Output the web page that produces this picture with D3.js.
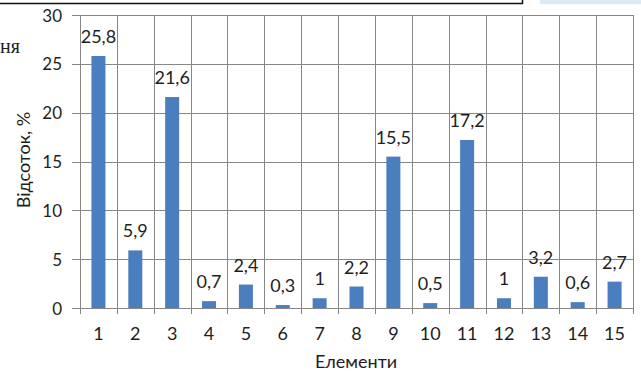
<!DOCTYPE html>
<html>
<head>
<meta charset="utf-8">
<script src="https://cdn.jsdelivr.net/npm/d3@7"></script>
<style>
  html, body { margin: 0; padding: 0; background: #fff; }
  svg { display: block; }
  text { font-family: Lato, "Open Sans", sans-serif; fill: #1e1e1e; }
</style>
</head>
<body>
<svg id="chart" width="641" height="376"></svg>
<script>
// Element numbers and their share, %
const categories = ["1","2","3","4","5","6","7","8","9","10","11","12","13","14","15"];
const values = [25.8, 5.9, 21.6, 0.7, 2.4, 0.3, 1, 2.2, 15.5, 0.5, 17.2, 1, 3.2, 0.6, 2.7];
const yTicks = [0, 5, 10, 15, 20, 25, 30];

const svg = d3.select("#chart");
const plotLeft = 80, plotRight = 633, plotTop = 15, plotBottom = 308;

const x = d3.scaleBand().domain(categories).range([plotLeft, plotRight]).paddingInner(0.62).paddingOuter(0.31);
const xb = d3.scaleBand().domain(categories).range([plotLeft, plotRight]);
const y = d3.scaleLinear().domain([0, 30]).range([plotBottom, plotTop]);

// fragments of the surrounding page
svg.append("line").attr("x1", 0).attr("x2", 523).attr("y1", 3.5).attr("y2", 3.5)
  .attr("stroke", "#111").attr("stroke-width", 1.5);
svg.append("line").attr("x1", 522.5).attr("x2", 522.5).attr("y1", 0).attr("y2", 4)
  .attr("stroke", "#111").attr("stroke-width", 1.5);
svg.append("rect").attr("x", 540).attr("y", 0).attr("width", 101).attr("height", 4)
  .attr("fill", "#dce9f6");
svg.append("text").attr("x", 0).attr("y", 53).text("ня")
  .style("font-family", "'Liberation Serif', serif").style("font-size", "20px");

const grid = svg.append("g").attr("stroke", "#878787").attr("stroke-width", 1).attr("shape-rendering", "crispEdges");

// horizontal gridlines with left tick marks
grid.selectAll("line.h").data(yTicks).join("line").attr("class", "h")
  .attr("x1", plotLeft - 8).attr("x2", plotRight)
  .attr("y1", d => Math.round(y(d)) + 0.5).attr("y2", d => Math.round(y(d)) + 0.5);

// vertical gridlines at category boundaries, extending below the axis as ticks
const bounds = categories.map(c => xb(c)).concat([plotRight]);
grid.selectAll("line.v").data(bounds).join("line").attr("class", "v")
  .attr("x1", d => Math.round(d) + 0.5).attr("x2", d => Math.round(d) + 0.5)
  .attr("y1", plotTop).attr("y2", plotBottom + 6);

// bars
svg.append("g").selectAll("rect").data(values).join("rect")
  .attr("x", (d, i) => x(categories[i]))
  .attr("width", x.bandwidth())
  .attr("y", d => y(d))
  .attr("height", d => y(0) - y(d))
  .attr("fill", "#4a7ebf");

// value labels
const fmt = d => String(d).replace(".", ",");
svg.append("g").selectAll("text").data(values).join("text")
  .attr("x", (d, i) => xb(categories[i]) + xb.bandwidth() / 2)
  .attr("y", d => y(d) - 13)
  .attr("text-anchor", "middle")
  .style("font-size", "18px")
  .text(fmt);

// y tick labels
svg.append("g").selectAll("text").data(yTicks).join("text")
  .attr("x", 62).attr("y", d => y(d) + 6.5)
  .attr("text-anchor", "end")
  .style("font-size", "17px")
  .text(d => d);

// x tick labels
svg.append("g").selectAll("text").data(categories).join("text")
  .attr("x", d => xb(d) + xb.bandwidth() / 2)
  .attr("y", 340)
  .attr("text-anchor", "middle")
  .style("font-size", "18px")
  .text(d => d);

// axis titles
svg.append("text").attr("x", 356).attr("y", 368).attr("text-anchor", "middle")
  .style("font-size", "18px").text("Елементи");
svg.append("text").attr("transform", "translate(30,160) rotate(-90)").attr("text-anchor", "middle")
  .style("font-size", "18px").text("Відсоток, %");
</script>
</body>
</html>
